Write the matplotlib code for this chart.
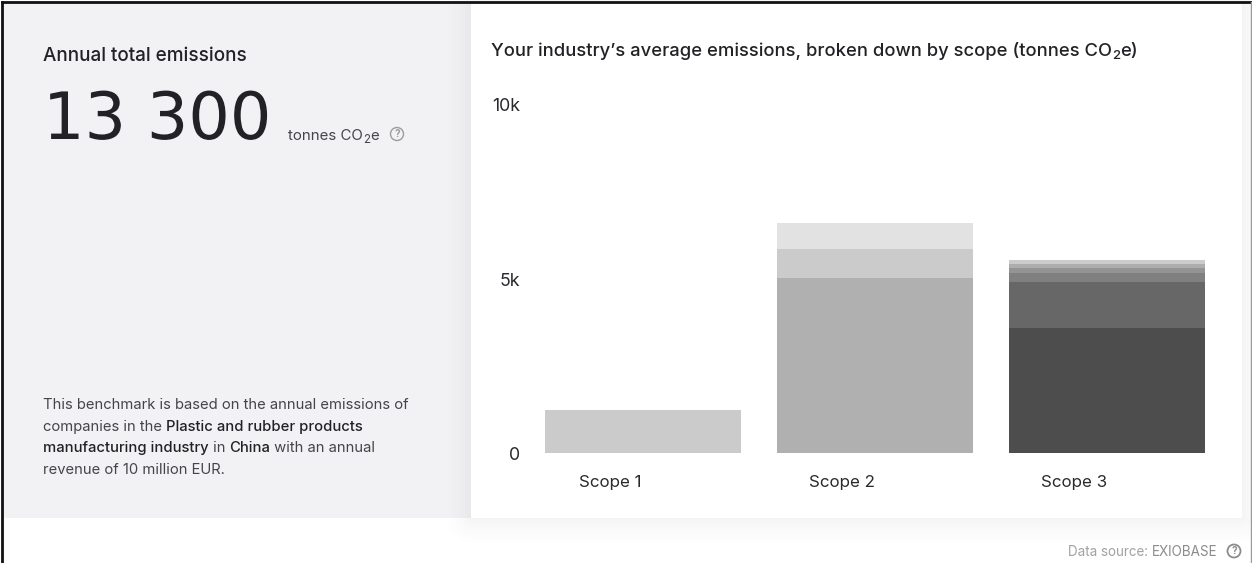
import numpy as np
import matplotlib
matplotlib.use("Agg")
import matplotlib.pyplot as plt
import matplotlib.patheffects as pe
from matplotlib.patches import Rectangle, Circle
from matplotlib.lines import Line2D

# ---- data (tonnes CO2e) ----
categories = ["Scope 1", "Scope 2", "Scope 3"]
scope1_layers = [1240]
scope2_layers = [5030, 830, 740]
scope3_layers = [3590, 1320, 260, 140, 130, 100]
scope1_colors = ["#CBCBCB"]
scope2_colors = ["#B0B0B0", "#CBCBCB", "#E2E2E2"]
scope3_colors = ["#4D4D4D", "#676767", "#808080", "#949494", "#ADADAD", "#CBCBCB"]
y_ticks = [0, 5000, 10000]
y_tick_labels = ["0", "5k", "10k"]

W, H = 1252, 563
PANEL = "#F2F2F5"
plt.rcParams["font.family"] = ["Inter", "DejaVu Sans"]
fig = plt.figure(figsize=(W / 100, H / 100), dpi=100, facecolor="white")

# pixel-space background layer
bg = fig.add_axes([0, 0, 1, 1], zorder=0)
bg.set_xlim(0, W)
bg.set_ylim(H, 0)
bg.axis("off")

# soft shadow around the white card
yy, xx = np.mgrid[0:H, 0:W]
dx = np.maximum(np.maximum(471 - xx, xx - 1242), 0)
dy = np.maximum(np.maximum(3 - yy, yy - 518), 0)
dist = np.hypot(dx, dy)
shadow = np.zeros((H, W, 4))
shadow[..., :3] = 0.25
shadow[..., 3] = 0.055 * np.clip(1 - dist / 34, 0, 1) ** 2
bg.add_patch(Rectangle((3, 3), 468, 515, fc=PANEL, ec="none", zorder=1))
bg.imshow(shadow, extent=(0, W, H, 0), aspect="auto", zorder=2, interpolation="bilinear")
bg.set_xlim(0, W)
bg.set_ylim(H, 0)
bg.add_patch(Rectangle((471, 3), 1242 - 471, 515, fc="white", ec="none", zorder=4))
# screenshot frame
bg.add_line(Line2D([1.5, 1.5], [H, 1.5], color="#111111", lw=2.0, zorder=6))
bg.add_line(Line2D([1.5, W], [1.5, 1.5], color="#111111", lw=2.0, zorder=6))
bg.add_line(Line2D([W - 1.5, W - 1.5], [1.5, H], color="#9a9a9a", lw=1.0, zorder=6))

INK = "#222226"
GREY = "#44444a"
r = fig.canvas.get_renderer()


def run(x, y, parts):
    """Draw consecutive text runs from pixel x on baseline y."""
    for s, size, weight, color, dy in parts:
        t = bg.text(x, y + dy, s, fontsize=size, fontweight=weight, color=color,
                    va="baseline", ha="left", zorder=8)
        x = t.get_window_extent(r).x1
    return x


def help_icon(cx, cy, rad, color, lw):
    bg.add_patch(Circle((cx, cy), rad, fc="none", ec=color, lw=lw, zorder=8))
    bg.text(cx, cy + 0.3, "?", fontsize=rad * 1.1, color=color, fontweight="bold",
            ha="center", va="center", zorder=8)


# left panel
run(43, 61, [("Annual total emissions", 13.6, "medium", INK, 0)])
big = bg.text(43, 139, "13 300", fontsize=47, color=INK, family="DejaVu Sans",
              va="baseline", ha="left", zorder=8)
big.set_path_effects([pe.withStroke(linewidth=1.0, foreground=PANEL)])
x = run(288, 140, [("tonnes CO", 10.8, "normal", GREY, 0), ("2", 8.3, "normal", GREY, 3), ("e", 10.8, "normal", GREY, 0)])
help_icon(397, 134, 6.5, "#9c9c9c", 1.0)

BODY = 10.65
run(43, 409, [("This benchmark is based on the annual emissions of", BODY, "normal", GREY, 0)])
run(43, 431, [("companies in the ", BODY, "normal", GREY, 0), ("Plastic and rubber products", BODY, "medium", INK, 0)])
run(43, 452, [("manufacturing industry", BODY, "medium", INK, 0), (" in ", BODY, "normal", GREY, 0),
              ("China", BODY, "medium", INK, 0), (" with an annual", BODY, "normal", GREY, 0)])
run(43, 474, [("revenue of 10 million EUR.", BODY, "normal", GREY, 0)])

# chart title and data source
run(491, 56, [("Your industry\u2019s average emissions, broken down by scope (tonnes CO", 13.25, "medium", INK, 0),
              ("2", 9.6, "medium", INK, 3), ("e)", 13.25, "medium", INK, 0)])
run(1068, 556, [("Data source: ", 9.7, "normal", "#a2a2a2", 0), ("EXIOBASE", 9.7, "normal", "#8c8c8c", 0)])
help_icon(1234, 551, 6.5, "#8c8c8c", 1.3)

# chart axes: 0 at y=453, 10k at y=105
ax = fig.add_axes([527 / W, 1 - 453 / H, 696 / W, 348 / H], zorder=5)
ax.patch.set_alpha(0)
layers = [scope1_layers, scope2_layers, scope3_layers]
colors = [scope1_colors, scope2_colors, scope3_colors]
for i, (vals, cols) in enumerate(zip(layers, colors)):
    bottom = 0
    for v, c in zip(vals, cols):
        ax.bar(i, v, bottom=bottom, width=196 / 232, color=c, linewidth=0)
        bottom += v
ax.set_xlim(-0.5, 2.5)
ax.set_ylim(0, 10000)
for s in ax.spines.values():
    s.set_visible(False)
ax.set_xticks([i - 33 / 232 for i in range(len(categories))], categories)
ax.set_yticks(y_ticks, y_tick_labels)
ax.tick_params(axis="both", length=0, labelcolor="#2a2a2e")
ax.tick_params(axis="x", pad=16, labelsize=12.2)
ax.tick_params(axis="y", pad=5, labelsize=12.8)

fig.savefig("out.png", dpi=100, facecolor="white")
